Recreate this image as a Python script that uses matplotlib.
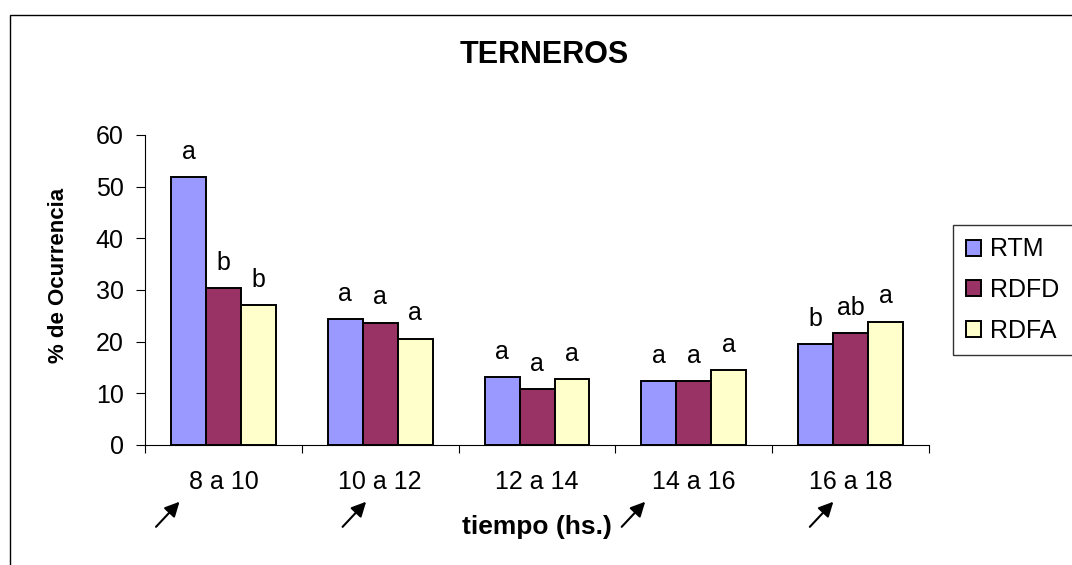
import matplotlib.pyplot as plt
import numpy as np
from matplotlib.patches import Rectangle

plt.rcParams["font.family"] = ["Liberation Sans", "DejaVu Sans"]

periodos = ["8 a 10", "10 a 12", "12 a 14", "14 a 16", "16 a 18"]
series = ["RTM", "RDFD", "RDFA"]
rtm = [51.8, 24.4, 13.1, 12.3, 19.5]
rdfd = [30.4, 23.7, 10.8, 12.3, 21.7]
rdfa = [27.1, 20.6, 12.7, 14.6, 23.9]
letras_rtm = ["a", "a", "a", "a", "b"]
letras_rdfd = ["b", "a", "a", "a", "ab"]
letras_rdfa = ["b", "a", "a", "a", "a"]
# periods marked with an arrow under the axis
flechas = [0, 1, 3, 4]
flecha_dx = [-0.28, -0.09, -0.31, -0.11]

colores = ["#9999FF", "#993366", "#FFFFCC"]
valores = [rtm, rdfd, rdfa]
letras = [letras_rtm, letras_rdfd, letras_rdfa]

fig = plt.figure(figsize=(10.72, 5.65), dpi=100)
ax = fig.add_axes([0.1353, 0.2124, 0.7313, 0.5487])

x = np.arange(len(periodos))
w = 0.223
for i, (vals, col, lab, txt) in enumerate(zip(valores, colores, series, letras)):
    pos = x + (i - 1) * w
    bars = ax.bar(pos, vals, w, color=col, edgecolor="black", linewidth=1.4, label=lab)
    for b, t in zip(bars, txt):
        ax.annotate(t, (b.get_x() + b.get_width() / 2, b.get_height()),
                    xytext=(0, 13), textcoords="offset points",
                    ha="center", va="baseline", fontsize=18)

ax.set_xlim(-0.5, len(periodos) - 0.5)
ax.set_ylim(0, 60)
ax.set_yticks(range(0, 61, 10))
ax.tick_params(axis="y", direction="out", length=6.5, width=0.8, labelsize=18, pad=9)
ax.set_xticks(x)
ax.set_xticklabels(periodos)
ax.tick_params(axis="x", which="major", length=0, labelsize=18, pad=18)
ax.set_xticks(np.arange(-0.5, len(periodos), 1), minor=True)
ax.tick_params(axis="x", which="minor", direction="out", length=6, width=0.8)
for s in ["top", "right"]:
    ax.spines[s].set_visible(False)
ax.spines["left"].set_linewidth(0.8)
ax.spines["bottom"].set_linewidth(0.8)

ax.set_ylabel("% de Ocurrencia", fontsize=16, fontweight="bold")
ax.yaxis.set_label_coords(-0.097, 0.548)
ax.set_xlabel("tiempo (hs.)", fontsize=19, fontweight="bold")
ax.xaxis.set_label_coords(0.5, -0.226)
fig.text(0.508, 0.902, "TERNEROS", ha="center", va="center", fontsize=22, fontweight="bold")

tr = ax.get_xaxis_transform()
for k, dx in zip(flechas, flecha_dx):
    ax.annotate("", xy=(k + dx, -0.183), xytext=(k + dx - 0.15, -0.264),
                xycoords=tr, textcoords=tr, annotation_clip=False,
                arrowprops=dict(arrowstyle="-|>", color="black", lw=1.5,
                                mutation_scale=22, shrinkA=0, shrinkB=0))

# legend box runs past the right edge of the figure
top = 1 - 225 / 565
fig.legend(loc="upper left", bbox_to_anchor=(953 / 1072, top - 0.3, 0.2, 0.3), mode="expand",
           frameon=True, fancybox=False, edgecolor="black", fontsize=18,
           handlelength=0.6, handleheight=0.6, handletextpad=0.4,
           labelspacing=0.66, borderpad=0.5, borderaxespad=0)

# outer chart frame
fig.add_artist(Rectangle((10 / 1072, -0.1), 1.2, 1.1 - 15 / 565,
                         transform=fig.transFigure, fill=False,
                         edgecolor="black", linewidth=1.0))

fig.savefig("out.png", dpi=100)
